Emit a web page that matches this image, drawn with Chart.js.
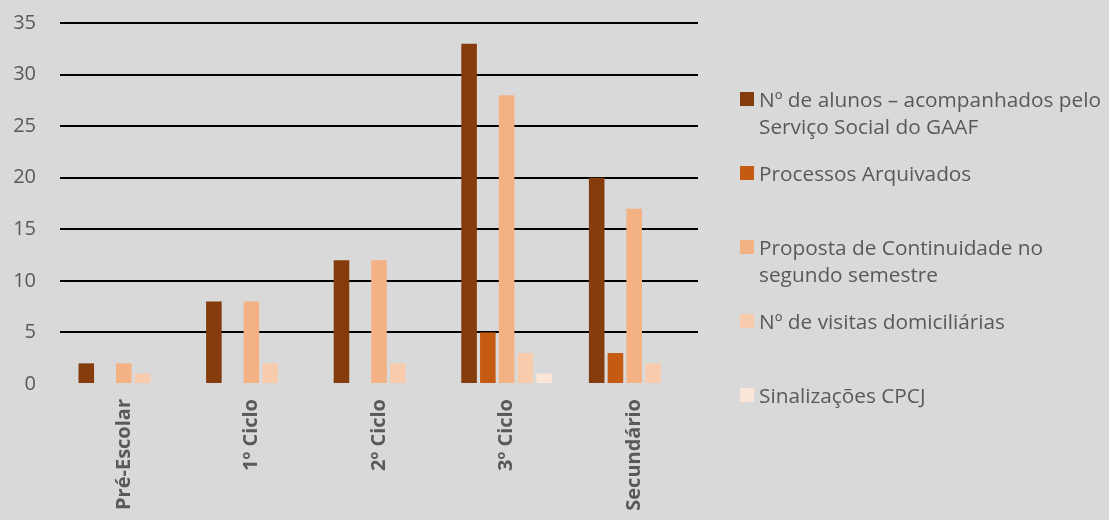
<!DOCTYPE html>
<html>
<head>
<meta charset="utf-8">
<script src="https://cdn.jsdelivr.net/npm/chart.js@4"></script>
<style>
  html, body { margin: 0; padding: 0; background: #d9d9d9; }
  #wrap { position: relative; width: 1109px; height: 520px; }
  #legend { position: absolute; left: 740px; top: 0; }
  .item { position: absolute; left: 0; white-space: nowrap; font-family: "Open Sans", sans-serif;
          font-size: 20.8px; line-height: 27px; color: #595959; }
  .box { position: absolute; left: 0; top: 0; width: 14px; height: 14px; }
  .txt { position: absolute; left: 19px; top: -6px; }
</style>
</head>
<body>
<div id="wrap">
  <canvas id="chart" width="1109" height="520"></canvas>
  <div id="legend"></div>
</div>
<script>
// categories and series
const levels = ["Pré-Escolar", "1º Ciclo", "2º Ciclo", "3º Ciclo", "Secundário"];
const seriesNames = [
  ["Nº de alunos – acompanhados pelo", "Serviço Social do GAAF"],
  ["Processos Arquivados"],
  ["Proposta de Continuidade no", "segundo semestre"],
  ["Nº de visitas domiciliárias"],
  ["Sinalizações CPCJ"],
];
const alunos = [2, 8, 12, 33, 20];
const arquivados = [0, 0, 0, 5, 3];
const continuidade = [2, 8, 12, 28, 17];
const visitas = [1, 2, 2, 3, 2];
const cpcj = [0, 0, 0, 1, 0];
const yTicks = [0, 5, 10, 15, 20, 25, 30, 35];

const colors = ["#843c0c", "#c55a11", "#f4b183", "#f8cbad", "#fbe5d6"];
const values = [alunos, arquivados, continuidade, visitas, cpcj];

const datasets = values.map((v, i) => ({
  label: seriesNames[i].join(" "),
  data: v,
  backgroundColor: colors[i],
  borderWidth: 0,
  categoryPercentage: 0.735,
  barPercentage: 0.83,
}));

const chart = new Chart(document.getElementById("chart").getContext("2d"), {
  type: "bar",
  data: { labels: levels, datasets: datasets },
  options: {
    responsive: false,
    animation: false,
    layout: { padding: { top: 23, right: 411, left: 0, bottom: 0 } },
    plugins: { legend: { display: false }, tooltip: { enabled: false } },
    scales: {
      x: {
        grid: { display: false },
        border: { display: false },
        ticks: {
          color: "#595959",
          font: { family: "Open Sans", size: 20, weight: "bold" },
          minRotation: 90,
          maxRotation: 90,
          padding: 7,
        },
        afterFit: (scale) => {
          scale.height = 136;
          scale.paddingTop = 0;
          scale.paddingBottom = 0;
        },
      },
      y: {
        min: 0,
        max: 35,
        afterBuildTicks: (scale) => { scale.ticks = yTicks.map(v => ({ value: v })); },
        border: { display: false },
        grid: {
          color: (ctx) => ctx.tick && ctx.tick.value === 0 ? "rgba(0,0,0,0)" : "#000000",
          lineWidth: 2,
          drawTicks: false,
        },
        ticks: {
          color: "#595959",
          font: { family: "Open Sans", size: 20 },
          padding: 24,
        },
        afterFit: (scale) => {
          scale.width = 60;
          scale.paddingTop = 0;
          scale.paddingBottom = 0;
        },
      },
    },
  },
});

// html legend built from the datasets
const legend = document.getElementById("legend");
chart.data.datasets.forEach((ds, i) => {
  const item = document.createElement("div");
  item.className = "item";
  item.style.top = (92 + i * 74) + "px";
  const box = document.createElement("div");
  box.className = "box";
  box.style.background = ds.backgroundColor;
  const txt = document.createElement("div");
  txt.className = "txt";
  txt.innerHTML = seriesNames[i].join("<br>");
  item.appendChild(box);
  item.appendChild(txt);
  legend.appendChild(item);
});
</script>
</body>
</html>
